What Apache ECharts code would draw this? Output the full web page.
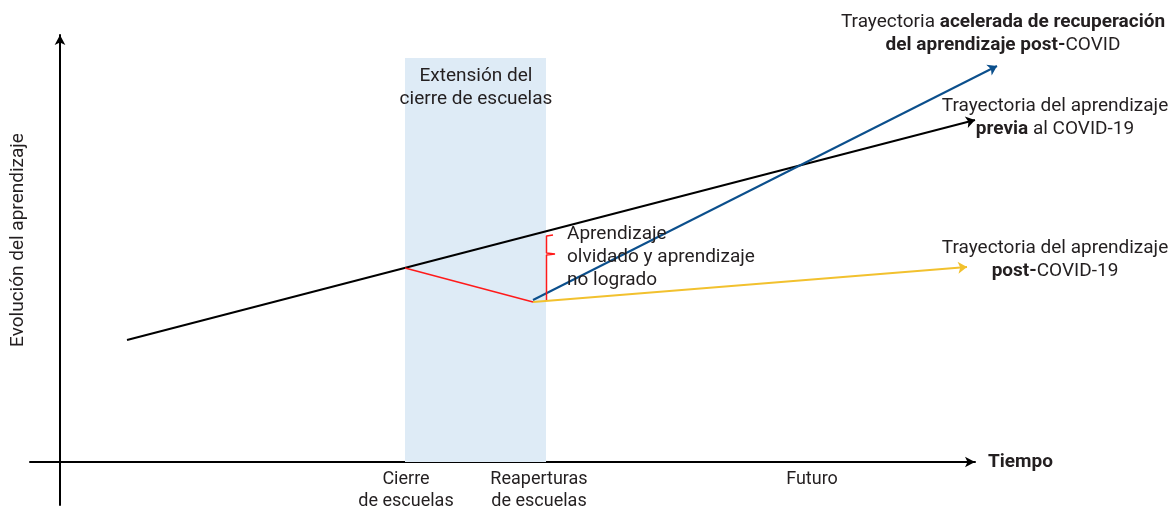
<!DOCTYPE html>
<html>
<head>
<meta charset="utf-8">
<script src="https://cdn.jsdelivr.net/npm/echarts@6/dist/echarts.min.js"></script>
<style>
  html, body { margin: 0; padding: 0; background: #fff; }
  #grafico { width: 1173px; height: 510px; }
</style>
</head>
<body>
<div id="grafico"></div>
<script>
// Datos del esquema (unidades arbitrarias: tiempo vs. aprendizaje)
const trayectoriaPrevia = [[6.7, 12.2], [91.5, 34.2]];
const perdida = [[34.5, 19.4], [47.3, 16.0]];
const trayectoriaAcelerada = [[47.3, 16.2], [93.7, 39.6]];
const trayectoriaPost = [[47.3, 16.0], [90.7, 19.5]];
const llave = [[49.3, 22.7], [48.65, 22.6], [48.65, 20.9], [49.5, 20.8], [48.65, 20.7], [48.65, 16.2]];
const cierre = [34.5, 48.6];
const alturaCierre = 40.4;
const marcasTiempo = [34.6, 47.9, 75.2];
const etiquetasTiempo = ['Cierre\nde escuelas', 'Reaperturas\nde escuelas', 'Futuro'];

const fuente = 'Roboto';
const colorTexto = '#231f20';
const tam = 19;

const grafico = echarts.init(document.getElementById('grafico'));

function flecha(nombre, puntos, color) {
    return {
        name: nombre,
        type: 'lines',
        coordinateSystem: 'cartesian2d',
        clip: false,
        symbol: ['none', 'arrow'],
        symbolSize: 9,
        lineStyle: { color: color, width: 2, opacity: 1 },
        data: [{ coords: puntos }],
        z: 3
    };
}

function texto(x, y, t, align) {
    return {
        type: 'text',
        x: x,
        y: y,
        z: 100,
        style: {
            text: t,
            fill: colorTexto,
            fontFamily: fuente,
            fontSize: tam,
            lineHeight: 23,
            align: align || 'center',
            verticalAlign: 'middle',
            rich: {
                b: { fontFamily: fuente, fontSize: tam, fontWeight: 'bold', fill: colorTexto, lineHeight: 23 },
                n: { fontFamily: fuente, fontSize: tam, fill: colorTexto, lineHeight: 23 }
            }
        }
    };
}

const option = {
    animation: false,
    grid: { left: 30, right: 198, top: 35, bottom: 5, outerBoundsMode: 'none' },
    xAxis: {
        type: 'value',
        min: -3,
        max: 91.5,
        position: 'bottom',
        offset: -43,
        splitLine: { show: false },
        axisTick: { show: false },
        axisLine: {
            onZero: false,
            symbol: ['none', 'arrow'],
            symbolSize: [8, 10],
            lineStyle: { color: '#000', width: 2 }
        },
        axisLabel: {
            customValues: marcasTiempo,
            formatter: v => etiquetasTiempo[marcasTiempo.indexOf(v)] || '',
            margin: 6,
            color: colorTexto,
            fontFamily: fuente,
            fontSize: 18,
            lineHeight: 22
        },
        name: 'Tiempo',
        nameLocation: 'end',
        nameGap: 13,
        nameTextStyle: { color: colorTexto, fontFamily: fuente, fontSize: 19, fontWeight: 'bold' }
    },
    yAxis: {
        type: 'value',
        min: -4.3,
        max: 42.7,
        splitLine: { show: false },
        axisTick: { show: false },
        axisLabel: { show: false },
        axisLine: {
            onZero: true,
            symbol: ['none', 'arrow'],
            symbolSize: [8, 10],
            lineStyle: { color: '#000', width: 2 }
        }
    },
    series: [
        {
            name: 'Cierre',
            type: 'line',
            data: [],
            silent: true,
            markArea: {
                silent: true,
                itemStyle: { color: '#deebf6' },
                data: [[{ xAxis: cierre[0], yAxis: 0 }, { xAxis: cierre[1], yAxis: alturaCierre }]]
            },
            z: 1
        },
        flecha('Previa', trayectoriaPrevia, '#000000'),
        {
            name: 'Pérdida',
            type: 'line',
            data: perdida,
            showSymbol: false,
            lineStyle: { color: '#ff1a1a', width: 1.5 },
            z: 3
        },
        {
            name: 'Llave',
            type: 'line',
            data: llave,
            showSymbol: false,
            lineStyle: { color: '#ff1a1a', width: 1.5 },
            z: 3
        },
        flecha('Acelerada', trayectoriaAcelerada, '#0b4f8c'),
        flecha('Post', trayectoriaPost, '#f2c12e')
    ],
    graphic: [
        texto(476, 88, 'Extensión del\ncierre de escuelas'),
        texto(567, 257, 'Aprendizaje\nolvidado y aprendizaje\nno logrado', 'left'),
        texto(1003, 34, '{n|Trayectoria }{b|acelerada de recuperación}\n{b|del aprendizaje post-}{n|COVID}'),
        texto(1055, 118, '{n|Trayectoria del aprendizaje}\n{b|previa}{n| al COVID-19}'),
        texto(1055, 260, '{n|Trayectoria del aprendizaje}\n{b|post-}{n|COVID-19}'),
        {
            type: 'text',
            x: 18,
            y: 240,
            z: 100,
            rotation: Math.PI / 2,
            style: {
                text: 'Evolución del aprendizaje',
                fill: colorTexto,
                fontFamily: fuente,
                fontSize: tam,
                align: 'center',
                verticalAlign: 'middle'
            }
        }
    ]
};

grafico.setOption(option);
</script>
</body>
</html>
